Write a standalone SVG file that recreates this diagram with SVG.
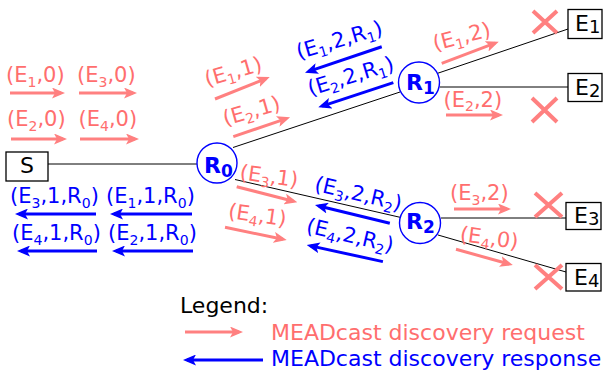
<svg xmlns="http://www.w3.org/2000/svg" width="609" height="377" viewBox="0 0 609 377">
  <style>
    text { font-family: "DejaVu Sans", "Liberation Sans", sans-serif; }
    .lbl { font-size: 21px; }
    .sb { font-size: 14px; }
    .rq { fill: #ff6e6e; }
    .rs { fill: #0000ff; }
    .ar { stroke: #ff8080; stroke-width: 3; fill: none; marker-end: url(#hR); }
    .ab { stroke: #0000ff; stroke-width: 3; fill: none; marker-end: url(#hB); }
    .edge { stroke: #000; stroke-width: 1; fill: none; }
    .x { stroke: #ff8080; stroke-width: 4; stroke-linecap: butt; }
    .box { fill: #fff; stroke: #000; stroke-width: 1.3; }
    .rt { fill: #fff; stroke: #0000ff; stroke-width: 1.4; }
    .nt { font-size: 22px; fill: #000; }
    .ns { font-size: 18px; }
    .rn { font-size: 22px; font-weight: bold; fill: #0000ff; }
    .rsub { font-size: 17px; }
    .leg { font-size: 22px; }
  </style>
  <defs>
    <marker id="hR" viewBox="0 0 13 11" refX="9" refY="5.5" markerWidth="13" markerHeight="11" markerUnits="userSpaceOnUse" orient="auto">
      <path d="M0,0 L13,5.5 L0,11 L3,5.5 z" fill="#ff8080"/>
    </marker>
    <marker id="hB" viewBox="0 0 13 11" refX="9" refY="5.5" markerWidth="13" markerHeight="11" markerUnits="userSpaceOnUse" orient="auto">
      <path d="M0,0 L13,5.5 L0,11 L3,5.5 z" fill="#0000ff"/>
    </marker>
  </defs>

  <!-- links between nodes -->
  <g id="connectors">
    <line class="edge" x1="48" y1="164" x2="197" y2="164"/>
    <line class="edge" x1="233" y1="147.5" x2="400" y2="92"/>
    <line class="edge" x1="235" y1="179.5" x2="401" y2="217.5"/>
    <line class="edge" x1="437" y1="73.5" x2="568" y2="29"/>
    <line class="edge" x1="440" y1="87" x2="568" y2="87"/>
    <line class="edge" x1="441" y1="218" x2="566" y2="218"/>
    <line class="edge" x1="438" y1="235" x2="566" y2="272"/>
  </g>

  <!-- nodes -->
  <g id="S">
    <rect class="box" x="6" y="152" width="42" height="29"/>
    <text class="nt" x="27" y="173" text-anchor="middle">S</text>
  </g>
  <g id="R0">
    <circle class="rt" cx="217" cy="163" r="20"/>
    <text class="rn" x="204" y="173">R<tspan class="rsub" dy="4">0</tspan></text>
  </g>
  <g id="R1">
    <circle class="rt" cx="419" cy="82.5" r="20.5"/>
    <text class="rn" x="406" y="89.5">R<tspan class="rsub" dy="4">1</tspan></text>
  </g>
  <g id="R2">
    <circle class="rt" cx="420" cy="223" r="20.5"/>
    <text class="rn" x="406" y="228.5">R<tspan class="rsub" dy="4">2</tspan></text>
  </g>
  <g id="E1">
    <rect class="box" x="568" y="9.5" width="34" height="29"/>
    <text class="nt" x="575" y="31">E<tspan class="ns" dy="2">1</tspan></text>
  </g>
  <g id="E2">
    <rect class="box" x="568" y="73.5" width="34" height="28"/>
    <text class="nt" x="575" y="95">E<tspan class="ns" dy="2">2</tspan></text>
  </g>
  <g id="E3">
    <rect class="box" x="566" y="202.5" width="35" height="27"/>
    <text class="nt" x="574" y="223">E<tspan class="ns" dy="2">3</tspan></text>
  </g>
  <g id="E4">
    <rect class="box" x="566" y="263.5" width="35" height="27.5"/>
    <text class="nt" x="574" y="285">E<tspan class="ns" dy="2">4</tspan></text>
  </g>

  <!-- dropped requests -->
  <g id="drops">
    <path class="x" d="M533,11 L557,33 M557,11 L533,33"/>
    <path class="x" d="M532,98 L557,122 M557,98 L532,122"/>
    <path class="x" d="M535,193 L562,217 M562,193 L535,217"/>
    <path class="x" d="M535,265 L562,289 M562,265 L535,289"/>
  </g>

  <!-- discovery requests -->
  <g id="requests">
    <text class="lbl rq" x="6" y="82">(E<tspan class="sb" dy="4.5">1</tspan><tspan dy="-4.5">,0)</tspan></text>
    <path class="ar" d="M10,93 H61"/>
    <text class="lbl rq" x="77" y="82">(E<tspan class="sb" dy="4.5">3</tspan><tspan dy="-4.5">,0)</tspan></text>
    <path class="ar" d="M79,93 H133"/>
    <text class="lbl rq" x="7" y="126">(E<tspan class="sb" dy="4.5">2</tspan><tspan dy="-4.5">,0)</tspan></text>
    <path class="ar" d="M11,139 H63"/>
    <text class="lbl rq" x="78.5" y="126">(E<tspan class="sb" dy="4.5">4</tspan><tspan dy="-4.5">,0)</tspan></text>
    <path class="ar" d="M80,139 H135"/>

    <text class="lbl rq" transform="translate(207,86.4) rotate(-16)">(E<tspan class="sb" dy="4.5">1</tspan><tspan dy="-4.5">,1)</tspan></text>
    <path class="ar" transform="translate(215,99) rotate(-21.8)" d="M0,0 H55"/>
    <text class="lbl rq" transform="translate(225.3,125.7) rotate(-16)">(E<tspan class="sb" dy="4.5">2</tspan><tspan dy="-4.5">,1)</tspan></text>
    <path class="ar" transform="translate(233.3,136.7) rotate(-18.9)" d="M0,0 H56"/>

    <text class="lbl rq" transform="translate(239.1,179) rotate(8)">(E<tspan class="sb" dy="4.5">3</tspan><tspan dy="-4.5">,1)</tspan></text>
    <path class="ar" transform="translate(236.7,186.7) rotate(14.4)" d="M0,0 H58.6"/>
    <text class="lbl rq" transform="translate(227.4,217.7) rotate(8.3)">(E<tspan class="sb" dy="4.5">4</tspan><tspan dy="-4.5">,1)</tspan></text>
    <path class="ar" transform="translate(225,227.3) rotate(11.6)" d="M0,0 H59"/>

    <text class="lbl rq" transform="translate(435.1,50.7) rotate(-14.6)">(E<tspan class="sb" dy="4.5">1</tspan><tspan dy="-4.5">,2)</tspan></text>
    <path class="ar" transform="translate(441.7,63.3) rotate(-20.7)" d="M0,0 H57"/>
    <text class="lbl rq" x="443.5" y="106.5">(E<tspan class="sb" dy="4.5">2</tspan><tspan dy="-4.5">,2)</tspan></text>
    <path class="ar" d="M446,115 H499"/>
    <text class="lbl rq" x="450" y="200">(E<tspan class="sb" dy="4.5">3</tspan><tspan dy="-4.5">,2)</tspan></text>
    <path class="ar" d="M454,209 H507"/>
    <text class="lbl rq" transform="translate(459.2,241) rotate(7.6)">(E<tspan class="sb" dy="4.5">4</tspan><tspan dy="-4.5">,0)</tspan></text>
    <path class="ar" transform="translate(456,249.3) rotate(15.5)" d="M0,0 H55"/>
  </g>

  <!-- discovery responses -->
  <g id="responses">
    <text class="lbl rs" x="10" y="203">(E<tspan class="sb" dy="4.5">3</tspan><tspan dy="-4.5">,1,R</tspan><tspan class="sb" dy="4.5">0</tspan><tspan dy="-4.5">)</tspan></text>
    <path class="ab" d="M96,214 H19"/>
    <text class="lbl rs" x="106" y="203">(E<tspan class="sb" dy="4.5">1</tspan><tspan dy="-4.5">,1,R</tspan><tspan class="sb" dy="4.5">0</tspan><tspan dy="-4.5">)</tspan></text>
    <path class="ab" d="M192,214 H114"/>
    <text class="lbl rs" x="12" y="240">(E<tspan class="sb" dy="4.5">4</tspan><tspan dy="-4.5">,1,R</tspan><tspan class="sb" dy="4.5">0</tspan><tspan dy="-4.5">)</tspan></text>
    <path class="ab" d="M97,251 H21"/>
    <text class="lbl rs" x="108" y="240">(E<tspan class="sb" dy="4.5">2</tspan><tspan dy="-4.5">,1,R</tspan><tspan class="sb" dy="4.5">0</tspan><tspan dy="-4.5">)</tspan></text>
    <path class="ab" d="M193,251 H116"/>

    <text class="lbl rs" transform="translate(298.7,59.2) rotate(-16.4)">(E<tspan class="sb" dy="4.5">1</tspan><tspan dy="-4.5">,2,R</tspan><tspan class="sb" dy="4.5">1</tspan><tspan dy="-4.5">)</tspan></text>
    <path class="ab" transform="translate(305,72.7) rotate(-18.7)" d="M81,0 H4"/>
    <text class="lbl rs" transform="translate(310.3,95.8) rotate(-17)">(E<tspan class="sb" dy="4.5">2</tspan><tspan dy="-4.5">,2,R</tspan><tspan class="sb" dy="4.5">1</tspan><tspan dy="-4.5">)</tspan></text>
    <path class="ab" transform="translate(318.3,107.3) rotate(-18.2)" d="M79,0 H4"/>

    <text class="lbl rs" transform="translate(313.6,190.5) rotate(13.2)">(E<tspan class="sb" dy="4.5">3</tspan><tspan dy="-4.5">,2,R</tspan><tspan class="sb" dy="4.5">2</tspan><tspan dy="-4.5">)</tspan></text>
    <path class="ab" transform="translate(315,205) rotate(13.7)" d="M77,0 H4"/>
    <text class="lbl rs" transform="translate(305.3,232.2) rotate(13.2)">(E<tspan class="sb" dy="4.5">4</tspan><tspan dy="-4.5">,2,R</tspan><tspan class="sb" dy="4.5">2</tspan><tspan dy="-4.5">)</tspan></text>
    <path class="ab" transform="translate(306.7,245) rotate(12.3)" d="M78,0 H4"/>
  </g>

  <!-- legend -->
  <g id="legend">
    <text class="leg" x="180" y="313" fill="#000">Legend:</text>
    <path class="ar" d="M185,332 H239"/>
    <text class="leg rq" x="271" y="340">MEADcast discovery request</text>
    <path class="ab" d="M263,360 H187"/>
    <text class="leg rs" x="271" y="366">MEADcast discovery response</text>
  </g>
</svg>
